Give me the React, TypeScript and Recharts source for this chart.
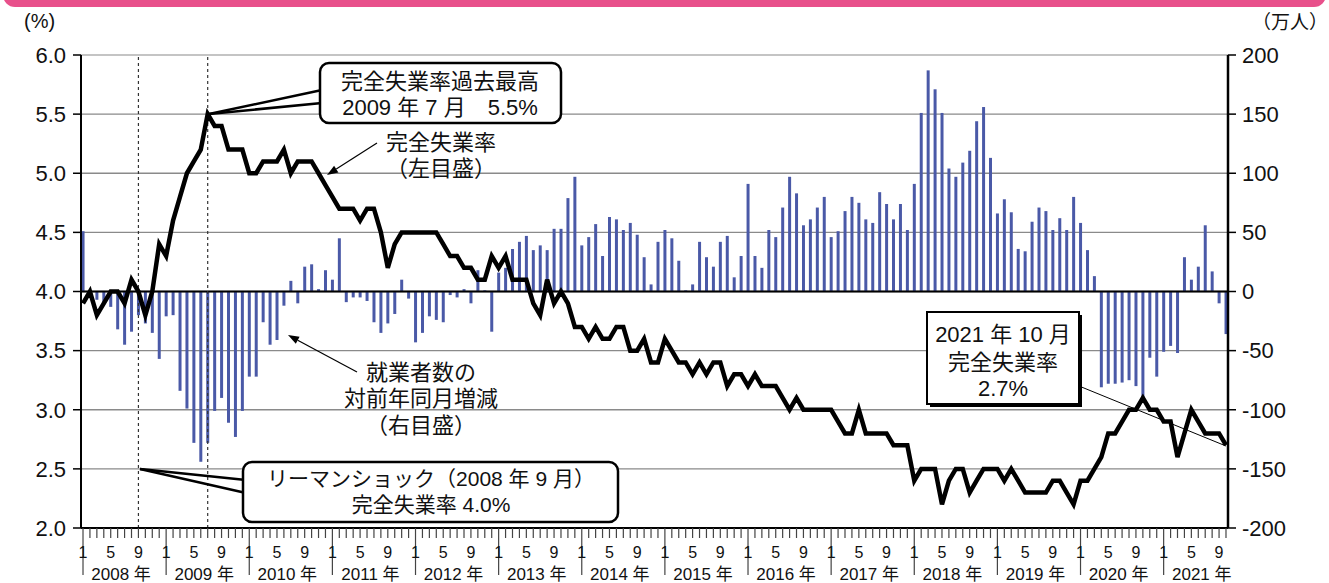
import React from "react";
import {
  Bar,
  CartesianGrid,
  ComposedChart,
  Line,
  ReferenceLine,
  XAxis,
  YAxis,
} from "recharts";

const YEARS = [2008, 2009, 2010, 2011, 2012, 2013, 2014, 2015, 2016, 2017, 2018, 2019, 2020, 2021];
const MONTH_LABELS: Record<number, string> = { 0: "1", 4: "5", 8: "9" };

// 完全失業率（%）, 2008年1月〜2021年10月, one row per year
const UNEMPLOYMENT_RATE = [
  3.9, 4.0, 3.8, 3.9, 4.0, 4.0, 3.9, 4.1, 4.0, 3.8, 4.0, 4.4,
  4.3, 4.6, 4.8, 5.0, 5.1, 5.2, 5.5, 5.4, 5.4, 5.2, 5.2, 5.2,
  5.0, 5.0, 5.1, 5.1, 5.1, 5.2, 5.0, 5.1, 5.1, 5.1, 5.0, 4.9,
  4.8, 4.7, 4.7, 4.7, 4.6, 4.7, 4.7, 4.5, 4.2, 4.4, 4.5, 4.5,
  4.5, 4.5, 4.5, 4.5, 4.4, 4.3, 4.3, 4.2, 4.2, 4.1, 4.1, 4.3,
  4.2, 4.3, 4.1, 4.1, 4.1, 3.9, 3.8, 4.1, 3.9, 4.0, 3.9, 3.7,
  3.7, 3.6, 3.7, 3.6, 3.6, 3.7, 3.7, 3.5, 3.5, 3.6, 3.4, 3.4,
  3.6, 3.5, 3.4, 3.4, 3.3, 3.4, 3.3, 3.4, 3.4, 3.2, 3.3, 3.3,
  3.2, 3.3, 3.2, 3.2, 3.2, 3.1, 3.0, 3.1, 3.0, 3.0, 3.0, 3.0,
  3.0, 2.9, 2.8, 2.8, 3.0, 2.8, 2.8, 2.8, 2.8, 2.7, 2.7, 2.7,
  2.4, 2.5, 2.5, 2.5, 2.2, 2.4, 2.5, 2.5, 2.3, 2.4, 2.5, 2.5,
  2.5, 2.4, 2.5, 2.4, 2.3, 2.3, 2.3, 2.3, 2.4, 2.4, 2.3, 2.2,
  2.4, 2.4, 2.5, 2.6, 2.8, 2.8, 2.9, 3.0, 3.0, 3.1, 3.0, 3.0,
  2.9, 2.9, 2.6, 2.8, 3.0, 2.9, 2.8, 2.8, 2.8, 2.7,
];

// 就業者数の対前年同月増減（万人）
const EMPLOYED_CHANGE = [
  51, -4, -7, -10, -13, -32, -45, -34, -20, -27, -35, -57,
  -21, -20, -84, -99, -128, -144, -128, -101, -90, -111, -123, -101,
  -72, -72, -26, -45, -41, -12, 9, -10, 21, 23, 2, 18,
  10, 45, -9, -5, -5, -8, -26, -35, -27, -19, 10, -6,
  -43, -35, -21, -24, -26, -3, -5, 2, -10, 18, 1, -34,
  16, 20, 36, 42, 47, 35, 39, 35, 53, 53, 79, 97,
  39, 46, 57, 30, 63, 61, 52, 58, 48, 29, 6, 42,
  52, 45, 26, 1, 6, 42, 29, 21, 42, 47, 12, 30,
  91, 30, 20, 52, 46, 71, 97, 83, 56, 61, 71, 80,
  46, 51, 68, 80, 75, 61, 58, 84, 74, 61, 74, 52,
  91, 151, 187, 171, 151, 104, 97, 109, 119, 144, 156, 113,
  66, 78, 67, 36, 34, 59, 71, 68, 52, 62, 52, 80,
  58, 35, 13, -81, -78, -78, -77, -75, -80, -90, -56, -72,
  -51, -46, -52, 29, 10, 21, 56, 17, -10, -36,
];

const LEFT_TICKS = [2, 2.5, 3, 3.5, 4, 4.5, 5, 5.5, 6];
const RIGHT_TICKS = [-200, -150, -100, -50, 0, 50, 100, 150, 200];
const MARK_LEHMAN = 8; // 2008年9月
const MARK_PEAK = 18; // 2009年7月

const W = 1329;
const H = 583;
const FONT = "'Liberation Sans', 'Noto Sans CJK JP', sans-serif";
const BAR_COLOR = "#4a59a7";

const data = UNEMPLOYMENT_RATE.map((rate, i) => ({ m: i, rate, change: EMPLOYED_CHANGE[i] }));
const monthTicks = data.map(d => d.m);
const yearTicks = YEARS.map((_, k) => k * 12 + 5.5);

function MonthTick(props: any) {
  const { x, y, payload } = props;
  const m = payload.value % 12;
  const isJan = m === 0;
  return (
    <g>
      <line x1={x} y1={y} x2={x} y2={y + (isJan ? 47 : 10)} stroke="#444" strokeWidth={1.2} />
      {MONTH_LABELS[m] && (
        <text x={x} y={y + 30} textAnchor="middle" fontSize={16} fontFamily={FONT} fill="#111">
          {MONTH_LABELS[m]}
        </text>
      )}
    </g>
  );
}

function YearTick(props: any) {
  const { x, y, payload } = props;
  const year = YEARS[Math.round((payload.value - 5.5) / 12)];
  return (
    <text x={x} y={y + 22} textAnchor="middle" fontSize={17} fontFamily={FONT} fill="#111">
      {`${year} 年`}
    </text>
  );
}

function Arrow({ x1, y1, x2, y2 }: { x1: number; y1: number; x2: number; y2: number }) {
  const len = Math.hypot(x2 - x1, y2 - y1);
  const ux = (x2 - x1) / len;
  const uy = (y2 - y1) / len;
  const bx = x2 - ux * 11;
  const by = y2 - uy * 11;
  return (
    <g>
      <line x1={x1} y1={y1} x2={bx} y2={by} stroke="#000" strokeWidth={1.2} />
      <polygon
        points={`${x2},${y2} ${bx - uy * 4},${by + ux * 4} ${bx + uy * 4},${by - ux * 4}`}
        fill="#000"
      />
    </g>
  );
}

export default function App() {
  return (
    <div style={{ position: "absolute", left: 0, top: 0, width: W, height: H, background: "#fff" }}>
      <ComposedChart width={W} height={H} data={data} margin={{ top: 55, right: 0, bottom: 0, left: 0 }}>
        <CartesianGrid xAxisId="m" yAxisId="l" vertical={false} stroke="#8a8a8a" strokeWidth={1.3} />
        <XAxis
          xAxisId="m"
          type="number"
          dataKey="m"
          domain={[-0.29, 165.29]}
          ticks={monthTicks}
          interval={0}
          tick={<MonthTick />}
          tickLine={false}
          tickSize={0}
          tickMargin={0}
          height={30}
          axisLine={{ stroke: "#000", strokeWidth: 2 }}
        />
        <XAxis
          xAxisId="y"
          type="number"
          dataKey="m"
          domain={[-0.29, 165.29]}
          ticks={yearTicks}
          interval={0}
          tick={<YearTick />}
          tickLine={false}
          tickSize={0}
          tickMargin={0}
          height={25}
          axisLine={false}
        />
        <YAxis
          yAxisId="l"
          domain={[2, 6]}
          ticks={LEFT_TICKS}
          interval={0}
          width={81}
          tickSize={8}
          tickMargin={7}
          tickFormatter={(v: number) => v.toFixed(1)}
          tick={{ fontSize: 22, fill: "#111", fontFamily: FONT }}
          tickLine={{ stroke: "#000", strokeWidth: 1.5 }}
          axisLine={{ stroke: "#000", strokeWidth: 2 }}
        />
        <YAxis
          yAxisId="r"
          orientation="right"
          domain={[-200, 200]}
          ticks={RIGHT_TICKS}
          interval={0}
          width={101}
          tickSize={8}
          tickMargin={6}
          tick={{ fontSize: 22, fill: "#111", fontFamily: FONT, textAnchor: "start" }}
          tickLine={{ stroke: "#000", strokeWidth: 1.5 }}
          axisLine={{ stroke: "#000", strokeWidth: 2.5 }}
        />
        <Bar
          xAxisId="m"
          yAxisId="r"
          dataKey="change"
          fill={BAR_COLOR}
          barSize={3}
          isAnimationActive={false}
        />
        <ReferenceLine xAxisId="m" yAxisId="l" y={6} stroke="#c4c4c4" strokeWidth={2} />
        <ReferenceLine xAxisId="m" yAxisId="l" y={4} stroke="#000" strokeWidth={2} />
        <ReferenceLine xAxisId="m" yAxisId="l" x={MARK_LEHMAN} stroke="#333" strokeWidth={1.2} strokeDasharray="3 3" />
        <ReferenceLine xAxisId="m" yAxisId="l" x={MARK_PEAK} stroke="#333" strokeWidth={1.2} strokeDasharray="3 3" />
        <Line
          xAxisId="m"
          yAxisId="l"
          type="linear"
          dataKey="rate"
          stroke="#000"
          strokeWidth={4.5}
          dot={false}
          isAnimationActive={false}
        />
      </ComposedChart>

      <svg
        width={W}
        height={H}
        style={{ position: "absolute", left: 0, top: 0, pointerEvents: "none" }}
        fontFamily={FONT}
        fill="#111"
      >
        <rect x={3} y={-30} width={W - 6} height={37} rx={12} fill="#e8508b" />
        <text x={24} y={28} fontSize={20}>(%)</text>
        <text x={1252} y={29} fontSize={19}>（万人）</text>

        {/* 過去最高 callout */}
        <line x1={209} y1={114} x2={322} y2={90} stroke="#000" strokeWidth={2.5} />
        <line x1={209} y1={114} x2={322} y2={103} stroke="#000" strokeWidth={2.5} />
        <rect x={320} y={63} width={241} height={60} rx={9} fill="#fff" stroke="#000" strokeWidth={2.5} />
        <text x={440} y={89} fontSize={22} textAnchor="middle">完全失業率過去最高</text>
        <text x={440} y={115} fontSize={22} textAnchor="middle">2009 年 7 月　5.5%</text>

        {/* リーマンショック callout */}
        <line x1={140} y1={469} x2={246} y2={480} stroke="#000" strokeWidth={2.5} />
        <line x1={140} y1={469} x2={246} y2={493} stroke="#000" strokeWidth={2.5} />
        <rect x={243} y={462} width={375} height={60} rx={9} fill="#fff" stroke="#000" strokeWidth={2.5} />
        <text x={431} y={486} fontSize={21} textAnchor="middle">リーマンショック（2008 年 9 月）</text>
        <text x={431} y={512} fontSize={21} textAnchor="middle">完全失業率 4.0%</text>

        {/* 2021年10月 callout */}
        <line x1={1079} y1={386} x2={1226} y2={446} stroke="#000" strokeWidth={1} />
        <rect x={930} y={315} width={152} height={92} fill="#000" />
        <rect x={927} y={312} width={152} height={92} fill="#fff" stroke="#000" strokeWidth={2} />
        <text x={1003} y={342} fontSize={22} textAnchor="middle">2021 年 10 月</text>
        <text x={1003} y={370} fontSize={22} textAnchor="middle">完全失業率</text>
        <text x={1003} y={396} fontSize={22} textAnchor="middle">2.7%</text>

        {/* series labels */}
        <text x={441} y={150} fontSize={22} textAnchor="middle">完全失業率</text>
        <text x={441} y={176} fontSize={22} textAnchor="middle">（左目盛）</text>
        <Arrow x1={377} y1={143} x2={327} y2={175} />

        <text x={421} y={380} fontSize={22} textAnchor="middle">就業者数の</text>
        <text x={421} y={406} fontSize={22} textAnchor="middle">対前年同月増減</text>
        <text x={421} y={433} fontSize={22} textAnchor="middle">（右目盛）</text>
        <Arrow x1={357} y1={372} x2={288} y2={335} />
      </svg>
    </div>
  );
}
